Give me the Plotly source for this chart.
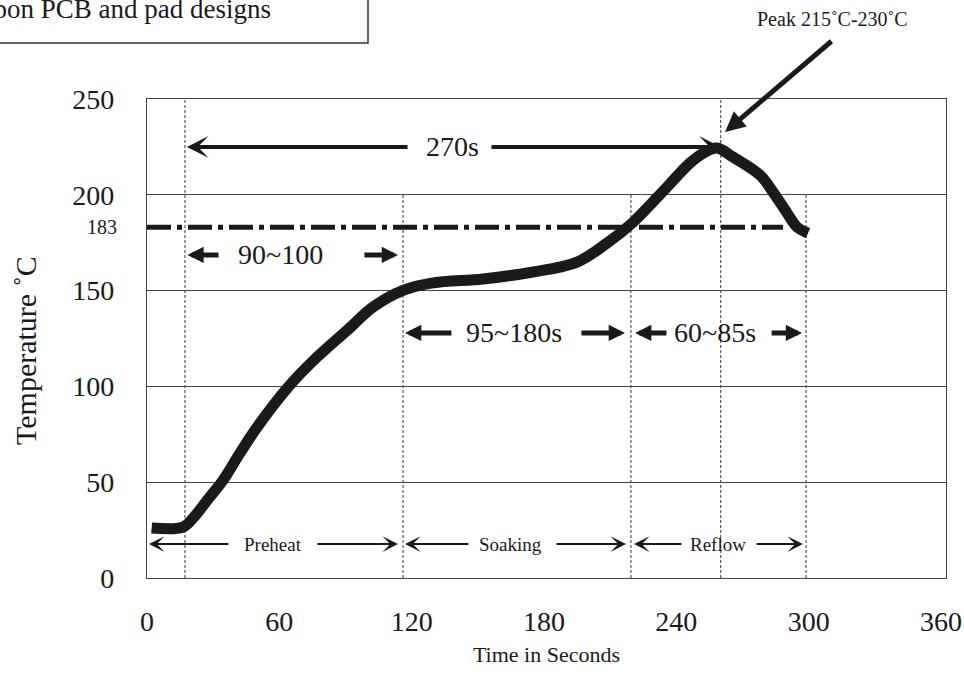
import plotly.graph_objects as go

# ---- data ----
time_s = [2.1, 16.3, 20.9, 27.7, 34.5, 42.2, 49.9, 63.5, 75.3, 90.7, 102.5, 116.1, 129.7,
          152.3, 175.0, 195.0, 208.6, 220.4, 235.8, 246.2, 253.0, 258.4, 265.7, 277.9,
          283.8, 290.2, 294.7, 299.7]
temp_c = [26.1, 26.6, 31.3, 41.2, 51.1, 65.3, 78.7, 99, 113.3, 129.2, 141.4, 150.1, 154,
          156.1, 159.7, 164.9, 174.8, 185.7, 204.1, 216.6, 222.3, 224.4, 219.7, 210.3, 201.5,
          190.5, 183.2, 180]

liquidus_temp = 183
liquidus_end = 288.4

zone_times = [17.2, 116.1, 219.4, 260.1, 298.8]
zone_tops = [250, 200, 200, 250, 200]

x_tick_vals = [0, 60, 120, 180, 240, 300, 360]
y_tick_vals = [0, 50, 100, 150, 200, 250]

# total-time arrow
total_label = "270s"
total_y = 225
total_left_head, total_left_tail, total_label_t, total_right_tail, total_right_head = 18.1, 118.8, 138.3, 155.5, 260.1

# duration arrows (middle row)
dur_labels = ["90~100", "95~180s", "60~85s"]
dur_y = [168.6, 127.9, 127.9]
dur_left_head = [18.3, 117.0, 221.3]
dur_left_tail = [33.1, 138.7, 236.2]
dur_label_t = [60.3, 166.4, 257.5]
dur_right_tail = [97.9, 196.3, 282.5]
dur_right_head = [113.8, 216.7, 297.0]

# phase arrows (bottom row)
phases = ["Preheat", "Soaking", "Reflow"]
phase_y = 17.7
phase_left_head = [0.9, 117.0, 220.8]
phase_left_tail = [37.6, 146.4, 243.0]
phase_label_t = [57.1, 165.0, 258.9]
phase_right_tail = [76.6, 185.0, 275.7]
phase_right_head = [113.8, 217.2, 297.4]

peak_label = "Peak 215˚C-230˚C"
peak_head = (262.1, 232.8)
peak_tail = (311.0, 280.8)

FONT = "Liberation Serif"
INK = "#1a1a1a"

fig = go.Figure()

# liquidus line
fig.add_trace(go.Scatter(x=[0, liquidus_end], y=[liquidus_temp, liquidus_temp], mode="lines",
                         line=dict(color=INK, width=5, dash="24px,6px,5px,6px"),
                         hoverinfo="skip", showlegend=False))
# profile curve
fig.add_trace(go.Scatter(x=time_s, y=temp_c, mode="lines",
                         line=dict(color=INK, width=11, shape="spline", smoothing=1.0),
                         showlegend=False))

shapes = []
for t, top in zip(zone_times, zone_tops):
    shapes.append(dict(type="line", xref="x", yref="y", x0=t, x1=t, y0=0, y1=top,
                       line=dict(color="#555", width=1.2, dash="3px,2px"), layer="below"))
# note box (top-left, cut off)
shapes.append(dict(type="rect", xref="paper", yref="paper", x0=-0.3, x1=0.2766, y0=1.1169, y1=1.4,
                   line=dict(color="#333", width=1.5), fillcolor="rgba(0,0,0,0)"))

ann = []

def arrow(head_x, head_y, tail_x, tail_y, width, size, style):
    ann.append(dict(x=head_x, y=head_y, ax=tail_x, ay=tail_y, xref="x", yref="y",
                    axref="x", ayref="y", text="", showarrow=True, arrowhead=style,
                    arrowsize=size, arrowwidth=width, arrowcolor=INK, standoff=0,
                    startstandoff=0))

def label(x, y, text, size):
    ann.append(dict(x=x, y=y, xref="x", yref="y", text=text, showarrow=False,
                    font=dict(family=FONT, size=size, color=INK),
                    xanchor="center", yanchor="middle"))

# total
arrow(total_left_head, total_y, total_left_tail, total_y, 4, 0.9, 3)
arrow(total_right_head, total_y, total_right_tail, total_y, 4, 0.9, 3)
label(total_label_t, total_y, total_label, 28)

for i, txt in enumerate(dur_labels):
    arrow(dur_left_head[i], dur_y[i], dur_left_tail[i], dur_y[i], 5, 0.65, 2)
    arrow(dur_right_head[i], dur_y[i], dur_right_tail[i], dur_y[i], 5, 0.65, 2)
    label(dur_label_t[i], dur_y[i], txt, 28)

for i, txt in enumerate(phases):
    arrow(phase_left_head[i], phase_y, phase_left_tail[i], phase_y, 2, 1.3, 3)
    arrow(phase_right_head[i], phase_y, phase_right_tail[i], phase_y, 2, 1.3, 3)
    label(phase_label_t[i], phase_y, txt, 19)

# peak arrow + label
arrow(peak_head[0], peak_head[1], peak_tail[0], peak_tail[1], 5, 0.8, 2)
ann.append(dict(x=(832 - 147) / 799, y=(578 - 19) / 479, xref="paper", yref="paper",
                text=peak_label, showarrow=False, xanchor="center", yanchor="middle",
                font=dict(family=FONT, size=20, color=INK)))

# 183 label
ann.append(dict(x=-0.035, y=liquidus_temp, xref="paper", yref="y", text="183",
                showarrow=False, xanchor="right", yanchor="middle",
                font=dict(family=FONT, size=20, color=INK)))

# y-axis title
ann.append(dict(x=(25 - 147) / 799, y=(578 - 351) / 479, xref="paper", yref="paper",
                text="Temperature ˚C", textangle=-90, showarrow=False,
                xanchor="center", yanchor="middle",
                font=dict(family=FONT, size=30, color=INK)))

# note text (partially cut off at the page edge, as in the source)
ann.append(dict(x=(273 - 147) / 799, y=1.1876, xref="paper", yref="paper",
                text="upon PCB and pad designs", showarrow=False,
                xanchor="right", yanchor="middle",
                font=dict(family=FONT, size=27, color=INK)))

fig.update_layout(
    width=964, height=692,
    margin=dict(l=147, r=18, t=99, b=114),
    paper_bgcolor="white", plot_bgcolor="white",
    font=dict(family=FONT, size=28, color=INK),
    shapes=shapes, annotations=ann, showlegend=False,
    xaxis=dict(range=[0, 362.26], tickvals=x_tick_vals,
               showgrid=False, zeroline=False, showline=True, mirror=True,
               linecolor="#444", linewidth=1.3, ticks="", ticklabelstandoff=18,
               ticklabeloverflow="allow", automargin=False,
               title=dict(text="Time in Seconds", standoff=10,
                          font=dict(family=FONT, size=22, color=INK))),
    yaxis=dict(range=[0, 250], tickvals=y_tick_vals, showgrid=True, gridcolor="#444",
               gridwidth=1.2, zeroline=False, showline=True, mirror=True,
               linecolor="#444", linewidth=1.3, ticks="", ticklabelstandoff=26,
               automargin=False),
)

# remove the page's default 8px body margin so the 964x692 figure fills the window exactly
fig.write_html("out.html",
               config={"displayModeBar": False},
               post_script="document.body.style.margin='0';"
                           "document.documentElement.style.overflow='hidden';")
